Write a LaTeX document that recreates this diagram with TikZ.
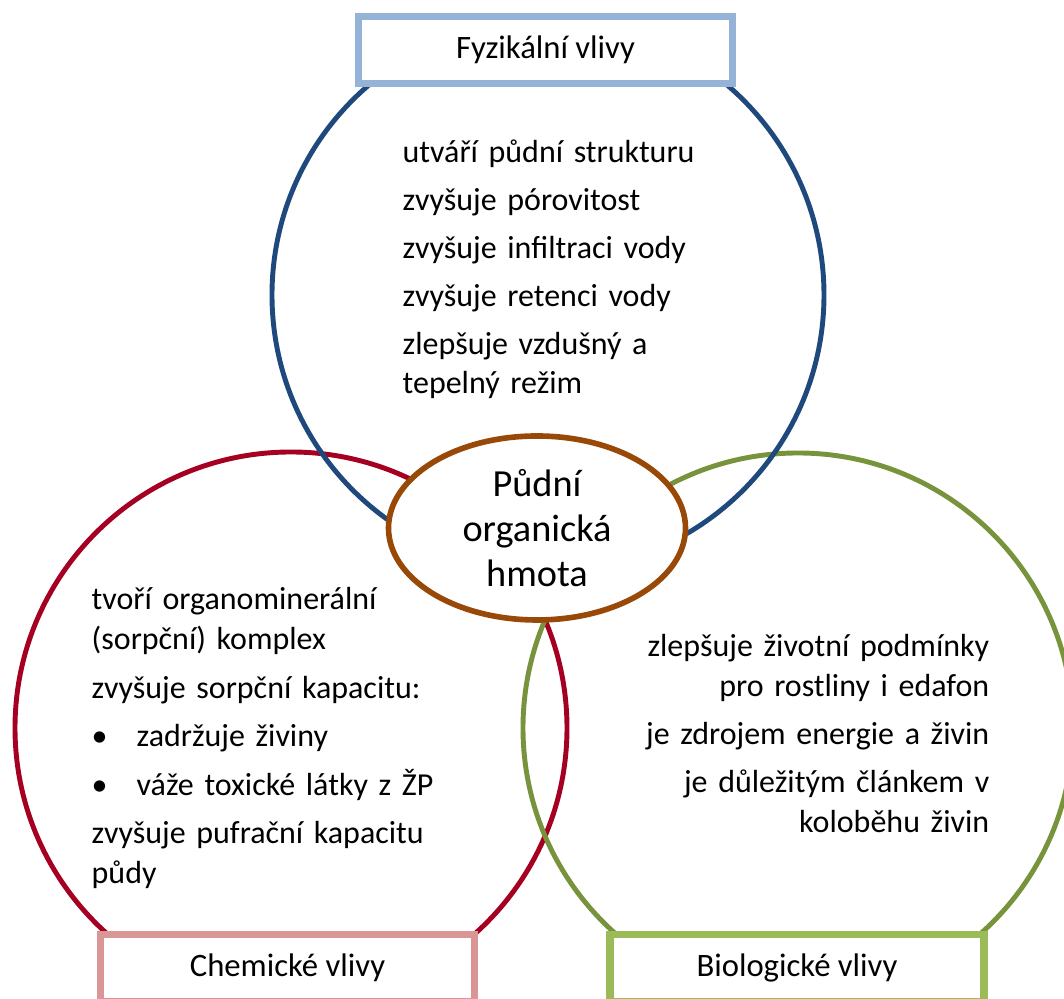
\documentclass[tikz,border=0pt]{standalone}
\usepackage{fontspec}
\setmainfont{Carlito}
\usetikzlibrary{shapes.geometric}
\definecolor{fyzblue}{RGB}{31,73,125}
\definecolor{chemred}{RGB}{165,0,33}
\definecolor{biogreen}{RGB}{119,147,60}
\definecolor{hmotabrown}{RGB}{152,72,7}
\definecolor{fyzbox}{RGB}{149,179,215}
\definecolor{chembox}{RGB}{217,150,148}
\definecolor{biobox}{RGB}{155,187,89}
\newcommand{\odrazka}{\makebox[0.45cm][l]{\textbullet}}

\begin{document}
\begin{tikzpicture}[
  kruh/.style={circle, draw, line width=1.4pt, minimum size=5.52cm, inner sep=0pt},
  ramecek/.style={rectangle, draw, fill=white, line width=2pt, minimum width=3.74cm,
    minimum height=0.675cm, inner sep=0pt, font=\fontsize{9.3}{11.2}\selectfont},
  popis/.style={inner sep=0pt, font=\fontsize{9.1}{11.3}\selectfont}]
  \clip (0,0) rectangle (10.64,9.99);
  \node [kruh, draw=chemred] (chem) at (2.91,2.71) {};
  \node [kruh, draw=biogreen, minimum size=5.50cm] (bio) at (7.98,2.71) {};
  \node [kruh, draw=fyzblue] (fyz) at (5.48,7.04) {};
  \node [ellipse, draw=hmotabrown, fill=white, line width=1.6pt, minimum width=2.97cm,
    minimum height=1.84cm, inner sep=0pt, align=center,
    font=\fontsize{10.9}{12.9}\selectfont] (hmota) at (5.37,4.71) {Půdní\\organická\\hmota};
  \node [ramecek, draw=fyzbox] (fyzlabel) at (5.455,9.49) {Fyzikální vlivy};
  \node [ramecek, draw=chembox] (chemlabel) at (2.875,0.3075) {Chemické vlivy};
  \node [ramecek, draw=biobox] (biolabel) at (7.97,0.3075) {Biologické vlivy};
  \node [popis, text width=4.2cm, align=left, anchor=base west] (fyztext) at (4.02,8.36)
    {utváří půdní strukturu\\[2.3pt] zvyšuje pórovitost\\[2.3pt] zvyšuje infiltraci vody\\[2.3pt]
     zvyšuje retenci vody\\[2.3pt] zlepšuje vzdušný a\\ tepelný režim};
  \node [popis, text width=4.7cm, align=left, anchor=base west] (chemtext) at (0.91,3.89)
    {tvoří organominerální\\ (sorpční) komplex\\[2.5pt] zvyšuje sorpční kapacitu:\\[2.5pt]
     \odrazka zadržuje živiny\\[2.5pt] \odrazka váže toxické látky z ŽP\\[2.5pt]
     zvyšuje pufrační kapacitu\\ půdy};
  \node [popis, text width=4.5cm, align=right, anchor=base east] (biotext) at (9.90,3.42)
    {zlepšuje životní podmínky\\ pro rostliny i edafon\\[2.3pt] je zdrojem energie a živin\\[2.3pt]
     je důležitým článkem v\\ koloběhu živin};
\end{tikzpicture}
\end{document}
